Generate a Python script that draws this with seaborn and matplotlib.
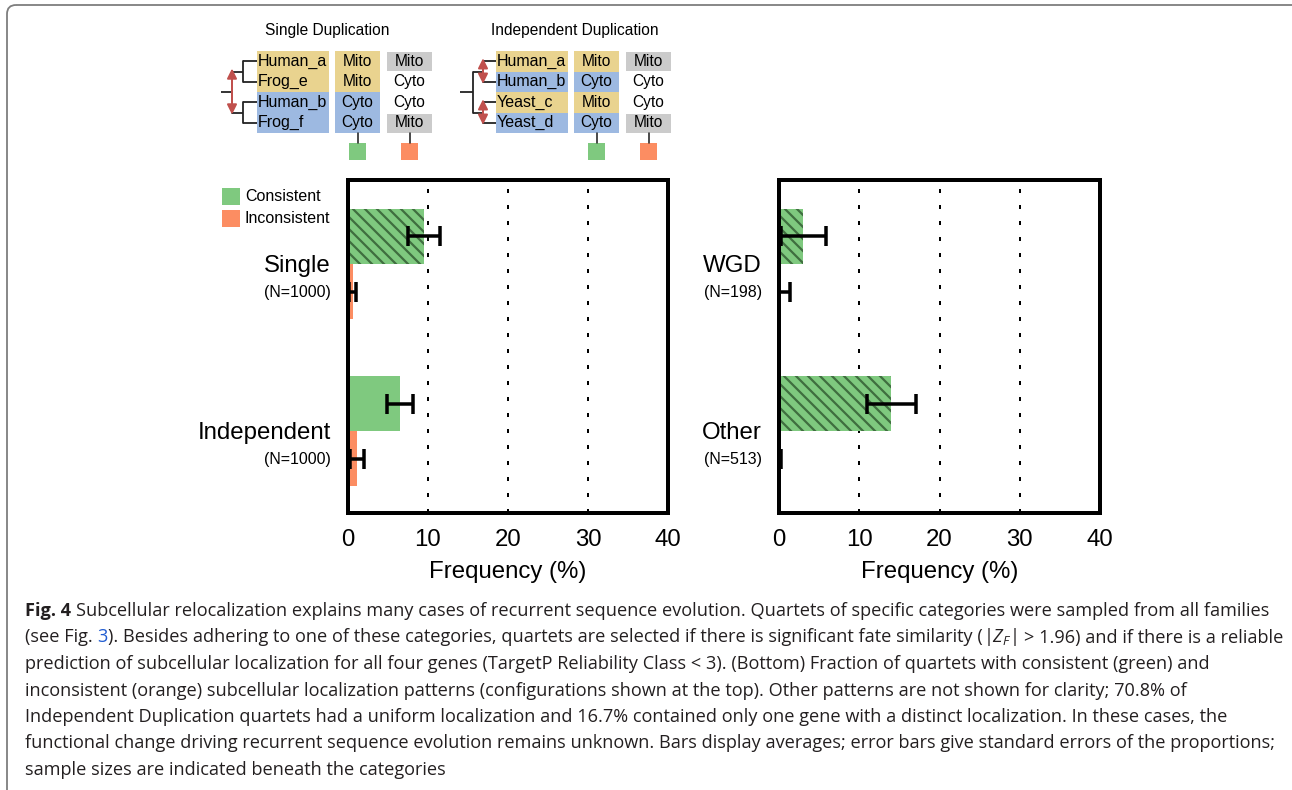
import numpy as np
import pandas as pd
import matplotlib
matplotlib.use('Agg')
import matplotlib.pyplot as plt
import seaborn as sns
from matplotlib.patches import Rectangle, FancyBboxPatch

# ── Data ───────────────────────────────────────────────────────────────────
hue_levels = ['Consistent', 'Inconsistent']
xticks = [0, 10, 20, 30, 40]

left_cats       = ['Single', 'Independent']
left_n          = [1000, 1000]
left_cons       = [9.5, 6.5]
left_cons_err   = [1.95, 1.6]
left_incons     = [0.6, 1.1]
left_incons_err = [0.45, 0.85]
left_hatched    = [True, False]

right_cats       = ['WGD', 'Other']
right_n          = [198, 513]
right_cons       = [3.05, 14.0]
right_cons_err   = [2.8, 3.05]
right_incons     = [0.0, 0.0]
right_incons_err = [1.4, 0.3]
right_hatched    = [True, True]

# schematic at the top
single_genes  = ['Human_a', 'Frog_e', 'Human_b', 'Frog_f']
single_loc    = ['Mito', 'Mito', 'Cyto', 'Cyto']
single_incons = ['Mito', 'Cyto', 'Cyto', 'Mito']
indep_genes   = ['Human_a', 'Human_b', 'Yeast_c', 'Yeast_d']
indep_loc     = ['Mito', 'Cyto', 'Mito', 'Cyto']
indep_incons  = ['Mito', 'Cyto', 'Cyto', 'Mito']

caption_lines = [
    [('Fig. 4 ', 'bold'),
     ('Subcellular relocalization explains many cases of recurrent sequence evolution. '
      'Quartets of specific categories were sampled from all families', 'normal')],
    [('(see Fig. ', 'normal'), ('3', 'link'),
     ('). Besides adhering to one of these categories, quartets are selected if there is '
      'significant fate similarity (', 'normal'),
     ('$|Z_F|$ ', 'normal'),
     ('> 1.96) and if there is a reliable', 'normal')],
    [('prediction of subcellular localization for all four genes (TargetP Reliability Class < 3). '
      '(Bottom) Fraction of quartets with consistent (green) and', 'normal')],
    [('inconsistent (orange) subcellular localization patterns (configurations shown at the top). '
      'Other patterns are not shown for clarity; 70.8% of', 'normal')],
    [('Independent Duplication quartets had a uniform localization and 16.7% contained only one '
      'gene with a distinct localization. In these cases, the', 'normal')],
    [('functional change driving recurrent sequence evolution remains unknown. Bars display '
      'averages; error bars give standard errors of the proportions;', 'normal')],
    [('sample sizes are indicated beneath the categories', 'normal')],
]

# ── Style ──────────────────────────────────────────────────────────────────
DPI = 72
W, H = 1292, 790
GREEN, ORANGE, HATCH = '#7fc97f', '#fc8d62', '#3f6e3f'
MITO, CYTO, GRAY = '#e9d38f', '#9db9e1', '#cbcbcb'
RED = '#c0504d'
TEXT = '#231f20'

sns.set_theme(style='white')
plt.rcParams['font.family'] = ['Liberation Sans', 'DejaVu Sans']
plt.rcParams['hatch.linewidth'] = 2.2
plt.rcParams['mathtext.fontset'] = 'custom'
plt.rcParams['mathtext.rm'] = 'Open Sans'
plt.rcParams['mathtext.it'] = 'Open Sans:italic'

fig = plt.figure(figsize=(W / DPI, H / DPI), dpi=DPI)
bg = fig.add_axes([0, 0, 1, 1])
bg.set_xlim(0, W); bg.set_ylim(H, 0); bg.axis('off')


def px_axes(x0, y0, x1, y1):
    return fig.add_axes([x0 / W, (H - y1) / H, (x1 - x0) / W, (y1 - y0) / H])


# ── Bar panels ─────────────────────────────────────────────────────────────
def panel(ax, cats, ns, cons, cons_err, incons, incons_err, hatched):
    df = pd.DataFrame({
        'category': cats * 2,
        'kind': [hue_levels[0]] * len(cats) + [hue_levels[1]] * len(cats),
        'value': cons + incons,
        'err': cons_err + incons_err,
        'hatch': hatched + [False] * len(cats),
    })
    for v in xticks[1:-1]:
        ax.axvline(v, color='black', lw=2, ls=(0, (2, 6)), zorder=0.5)
    sns.barplot(data=df, x='value', y='category', hue='kind', hue_order=hue_levels,
                palette=[GREEN, ORANGE], orient='h', width=0.66, saturation=1,
                errorbar=None, legend=False, linewidth=0, ax=ax)
    for p in list(ax.patches):
        yc = p.get_y() + p.get_height() / 2
        i = int(round(yc))
        k = 0 if yc < i else 1
        row = df[(df.category == cats[i]) & (df.kind == hue_levels[k])].iloc[0]
        if row.hatch:
            p.set_hatch('\\\\')
            p.set_edgecolor(HATCH)
            p.set_linewidth(0)
        ax.errorbar(row.value, yc, xerr=row.err, fmt='none', ecolor='black',
                    elinewidth=3.5, capsize=10, capthick=3.5, zorder=3)
    ax.set_xlim(xticks[0], xticks[-1])
    ax.set_ylim(1.49, -0.503)
    ax.set_xticks(xticks)
    ax.set_xticklabels([str(t) for t in xticks])
    ax.set_yticks([])
    ax.set_ylabel('')
    ax.set_xlabel('Frequency (%)', fontsize=24, labelpad=10, color='black')
    ax.tick_params(axis='x', length=0, labelsize=24, pad=16, colors='black')
    for s in ax.spines.values():
        s.set_linewidth(4)
        s.set_color('black')
        s.set_visible(True)
    tr = ax.get_yaxis_transform()
    for i, (c, n) in enumerate(zip(cats, ns)):
        ax.annotate(c, xy=(0, i), xycoords=tr, xytext=(-17, -8),
                    textcoords='offset points', ha='right', va='baseline',
                    fontsize=24, color='black')
        ax.annotate(f'(N={n})', xy=(0, i), xycoords=tr, xytext=(-17, -33),
                    textcoords='offset points', ha='right', va='baseline',
                    fontsize=16, color='black')


ax_l = px_axes(348, 180, 668, 513)
ax_r = px_axes(779, 180, 1100, 513)
panel(ax_l, left_cats, left_n, left_cons, left_cons_err,
      left_incons, left_incons_err, left_hatched)
panel(ax_r, right_cats, right_n, right_cons, right_cons_err,
      right_incons, right_incons_err, right_hatched)

# legend
for j, (lab, col) in enumerate(zip(hue_levels, [GREEN, ORANGE])):
    y = 188 + 22 * j
    bg.add_patch(Rectangle((222, y), 18, 16.5, facecolor=col, edgecolor='none'))
    bg.text(245, y + 8.5, lab, fontsize=16, va='center', ha='left', color='black')


# ── Schematic ──────────────────────────────────────────────────────────────
def schematic(x0, title, title_x, genes, loc, incons, arrows_at_root):
    top, rh = 51, 20.5
    rows = [top + rh * (r + 0.5) for r in range(4)]
    lc = '#222222'
    bg.text(title_x, 35, title, fontsize=15.5, ha='center', va='baseline', color='black')
    c2, c3 = x0 + 78, x0 + 130
    for r, (g, l, ic) in enumerate(zip(genes, loc, incons)):
        yt = top + rh * r
        col = MITO if l == 'Mito' else CYTO
        bg.add_patch(Rectangle((x0, yt), 72, rh, facecolor=col, edgecolor='none'))
        bg.add_patch(Rectangle((c2, yt), 45, rh, facecolor=col, edgecolor='none'))
        if ic == 'Mito':
            bg.add_patch(Rectangle((c3, yt + 1), 45, rh - 1.5, facecolor=GRAY, edgecolor='none'))
        bg.text(x0 + 1, rows[r], g, fontsize=16, va='center', ha='left', color='black')
        bg.text(c2 + 22.5, rows[r], l, fontsize=15.5, va='center', ha='center', color='black')
        bg.text(c3 + 22.5, rows[r], ic, fontsize=15.5, va='center', ha='center', color='black')
    bottom = top + 4 * rh
    for cx, sq in [(c2 + 22.5, GREEN), (c3 + 22.5, ORANGE)]:
        bg.plot([cx, cx], [bottom, bottom + 10], color=lc, lw=1.6)
        bg.add_patch(Rectangle((cx - 8.5, bottom + 10), 17, 17, facecolor=sq, edgecolor='none'))
    # tree
    px = x0 - (14 if arrows_at_root else 13)
    rx = x0 - (25 if arrows_at_root else 23)
    sx = x0 - 36
    mids = [(rows[0] + rows[1]) / 2, (rows[2] + rows[3]) / 2]
    for r in rows:
        bg.plot([px, x0], [r, r], color=lc, lw=1.8, solid_capstyle='butt')
    for a, b, m in [(rows[0], rows[1], mids[0]), (rows[2], rows[3], mids[1])]:
        bg.plot([px, px], [a, b], color=lc, lw=1.8)
        bg.plot([rx, px], [m, m], color=lc, lw=1.8, solid_capstyle='butt')
    bg.plot([rx, rx], mids, color=lc, lw=1.8)
    bg.plot([sx, rx], [(mids[0] + mids[1]) / 2] * 2, color=lc, lw=1.8, solid_capstyle='butt')
    arrow = dict(arrowstyle='<|-|>,head_length=0.5,head_width=0.25', color=RED,
                 lw=2, mutation_scale=16, shrinkA=0, shrinkB=0)
    if arrows_at_root:
        bg.annotate('', xy=(rx, mids[0] - 3), xytext=(rx, mids[1] + 2), arrowprops=arrow)
    else:
        bg.annotate('', xy=(px, rows[0] - 3), xytext=(px, rows[1] + 2), arrowprops=arrow)
        bg.annotate('', xy=(px, rows[2] - 3), xytext=(px, rows[3] + 2), arrowprops=arrow)


schematic(257, 'Single Duplication', 327, single_genes, single_loc, single_incons, True)
schematic(496, 'Independent Duplication', 575, indep_genes, indep_loc, indep_incons, False)

# ── Caption ────────────────────────────────────────────────────────────────
renderer = fig.canvas.get_renderer()
styles = {
    'normal': dict(color=TEXT, family=['Open Sans', 'DejaVu Sans']),
    'bold': dict(color=TEXT, family=['Open Sans', 'DejaVu Sans'], fontweight='bold'),
    'link': dict(color='#1f5bd1', family=['Open Sans', 'DejaVu Sans']),
}


def advance(text, size, style):
    t = bg.text(0, 0, text + '.', fontsize=size, **styles[style])
    d = bg.text(0, 0, '.', fontsize=size, **styles[style])
    w = t.get_window_extent(renderer).width - d.get_window_extent(renderer).width
    t.remove(); d.remove()
    return w


# shrink the caption so the widest of the full lines ends near x=1283
size0 = 18
widths = [sum(advance(s, size0, st) for s, st in segs) for segs in caption_lines]
cap_size = size0 * 1256 / max(widths)

for j, segs in enumerate(caption_lines):
    x = 25
    y = 616 + 26.5 * j
    for s, st in segs:
        bg.text(x, y, s, fontsize=cap_size, ha='left', va='baseline', **styles[st])
        x += advance(s, cap_size, st)

# figure frame
bg.add_patch(FancyBboxPatch((7, 5), 1295, 800, boxstyle='round,pad=0,rounding_size=9',
                            facecolor='none', edgecolor='#7d7d7d', lw=1.8))

fig.savefig('out.png', dpi=DPI)
plt.close(fig)
